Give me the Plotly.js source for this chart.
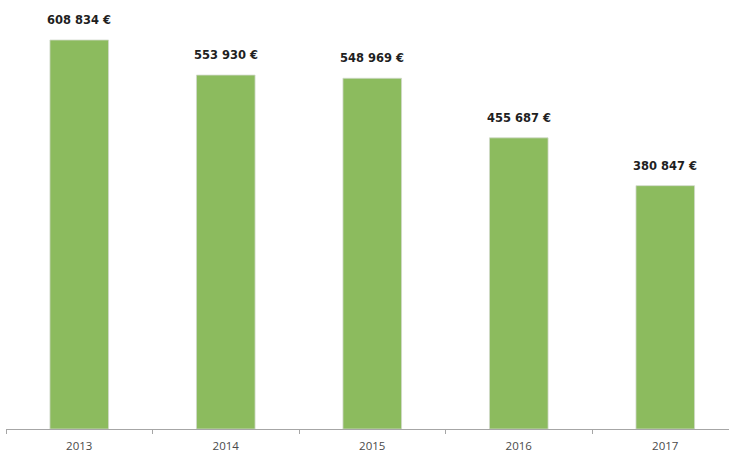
<!DOCTYPE html>
<html>
<head>
<meta charset="utf-8">
<script src="https://cdn.plot.ly/plotly-3.0.1.min.js"></script>
<style>html,body{margin:0;padding:0;background:#fff;}#chart{width:729px;height:452px;}</style>
</head>
<body>
<div id="chart"></div>
<script>
const years = ['2013', '2014', '2015', '2016', '2017'];
const amounts = [608834, 553930, 548969, 455687, 380847];
const labels = ['608 834 €', '553 930 €', '548 969 €', '455 687 €', '380 847 €'];

const trace = {
  type: 'bar',
  x: years,
  y: amounts,
  marker: {color: '#8cbb5e', line: {color: '#d2d9cb', width: 0.8}},
  hoverinfo: 'none'
};

const annotations = years.map((yr, i) => ({
  x: i, y: amounts[i], xref: 'x', yref: 'y',
  text: labels[i], showarrow: false,
  yanchor: 'bottom', yshift: 11,
  font: {family: '"DejaVu Sans", sans-serif', size: 11.5, color: '#1f1f1f', weight: 'bold'}
}));

const layout = {
  width: 729, height: 452,
  margin: {l: 6, r: 0, t: 0, b: 23},
  paper_bgcolor: '#ffffff', plot_bgcolor: '#ffffff',
  showlegend: false,
  bargap: 0.6,
  xaxis: {
    type: 'category',
    range: [-0.5, 4.435],
    tickson: 'boundaries',
    ticks: 'outside', ticklen: 4, tickcolor: '#a6a6a6', tickwidth: 1,
    ticklabelstandoff: 6,
    showline: true, linecolor: '#a6a6a6', linewidth: 1,
    showgrid: false, zeroline: false,
    tickfont: {family: '"Open Sans", sans-serif', size: 11.5, color: '#4a4a4a'}
  },
  yaxis: {
    range: [0, 671440],
    visible: false, showgrid: false, zeroline: false
  },
  annotations: annotations
};

Plotly.newPlot('chart', [trace], layout, {displayModeBar: false, staticPlot: true});
</script>
</body>
</html>
